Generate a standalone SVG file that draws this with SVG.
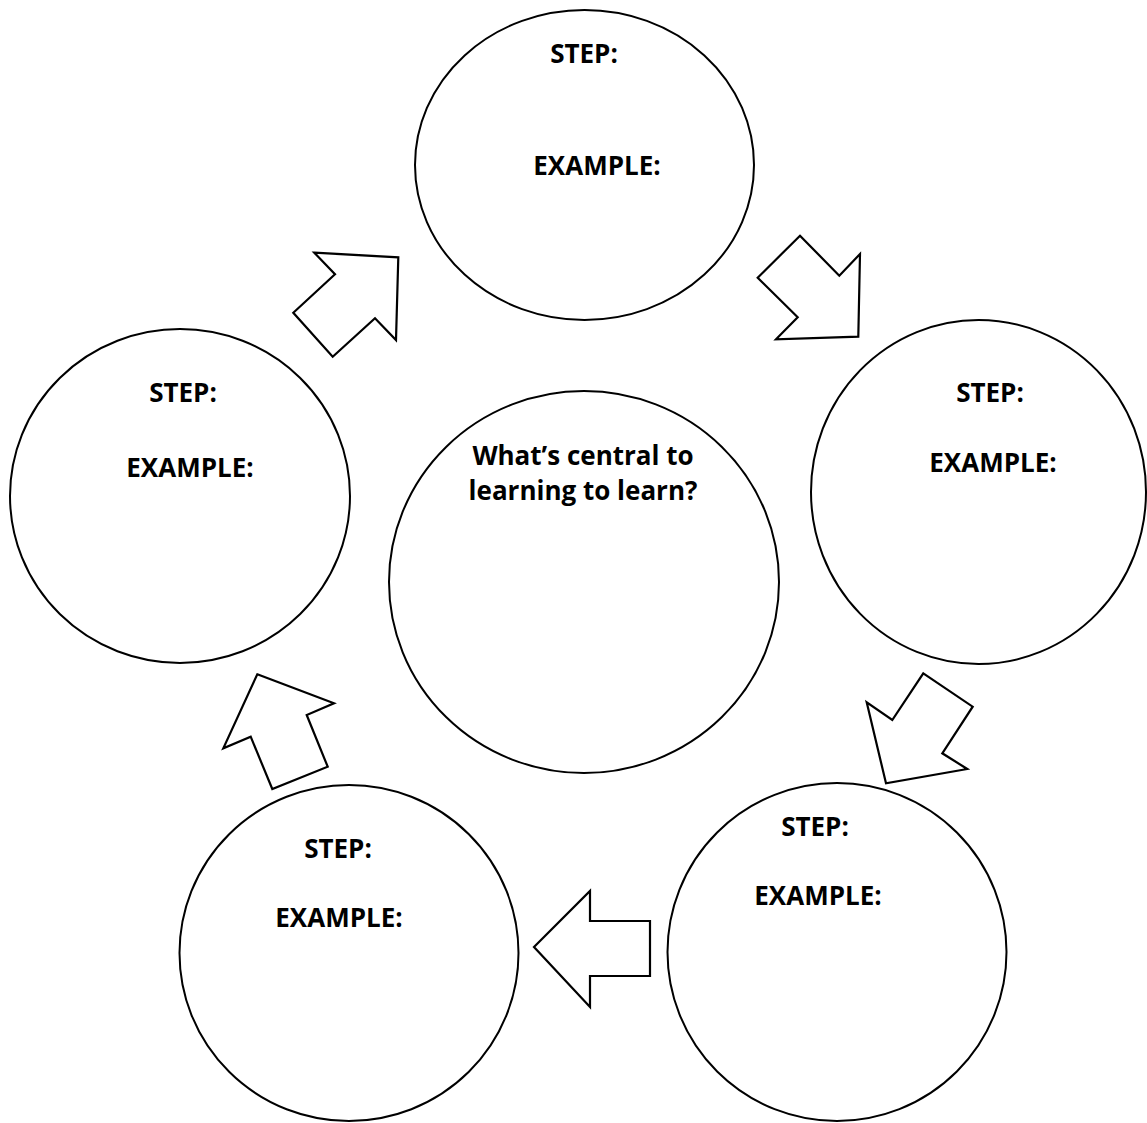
<svg xmlns="http://www.w3.org/2000/svg" width="1147" height="1123" viewBox="0 0 1147 1123">
<style>
.c{fill:#fff;stroke:#000;stroke-width:2}
.a{fill:#fff;stroke:#000;stroke-width:2.2;stroke-linejoin:miter}
.t{font-family:"Open Sans","Liberation Sans",sans-serif;font-weight:bold;font-size:26px;fill:#000;text-anchor:middle}
</style>
<rect width="1147" height="1123" fill="#fff"/>
<g id="node-top">
<ellipse class="c" cx="584.5" cy="165" rx="169.5" ry="155"/>
<text class="t" x="584" y="63">STEP:</text>
<text class="t" x="597" y="175">EXAMPLE:</text>
</g>
<g id="node-left">
<ellipse class="c" cx="180" cy="496" rx="170" ry="167"/>
<text class="t" x="183" y="402">STEP:</text>
<text class="t" x="190" y="477">EXAMPLE:</text>
</g>
<g id="node-right">
<ellipse class="c" cx="978.5" cy="492" rx="167.5" ry="172"/>
<text class="t" x="990" y="402">STEP:</text>
<text class="t" x="993" y="472">EXAMPLE:</text>
</g>
<g id="node-center">
<ellipse class="c" cx="584" cy="582" rx="195" ry="191"/>
<text class="t" x="583" y="465">What’s central to</text>
<text class="t" x="583" y="500">learning to learn?</text>
</g>
<g id="node-bottom-right">
<ellipse class="c" cx="837" cy="952" rx="169.5" ry="169"/>
<text class="t" x="815" y="836">STEP:</text>
<text class="t" x="818" y="905">EXAMPLE:</text>
</g>
<g id="node-bottom-left">
<ellipse class="c" cx="349" cy="953" rx="169.5" ry="168"/>
<text class="t" x="338" y="858">STEP:</text>
<text class="t" x="339" y="927">EXAMPLE:</text>
</g>
<g id="connectors">
<polygon class="a" points="314.3,252.7 398.3,257.3 396,340 375,318.3 332.7,356.7 293.3,312.7 335,274.3"/>
<polygon class="a" points="800,235.7 839.3,275.7 860,254 858.3,336.7 776,339.3 797.7,317.3 757.7,277.7"/>
<polygon class="a" points="923.3,673.3 972.7,706.7 942.3,753.3 967.3,769 886,783.3 866.7,702.3 892.3,720"/>
<polygon class="a" points="534,947 590,891 590,921 650,921 650,976 590,976 590,1007"/>
<polygon class="a" points="257.3,674.3 334,703.3 306.7,715 327.7,766.7 272.3,789 250.7,736.7 223.3,748.3"/>
</g>
</svg>
